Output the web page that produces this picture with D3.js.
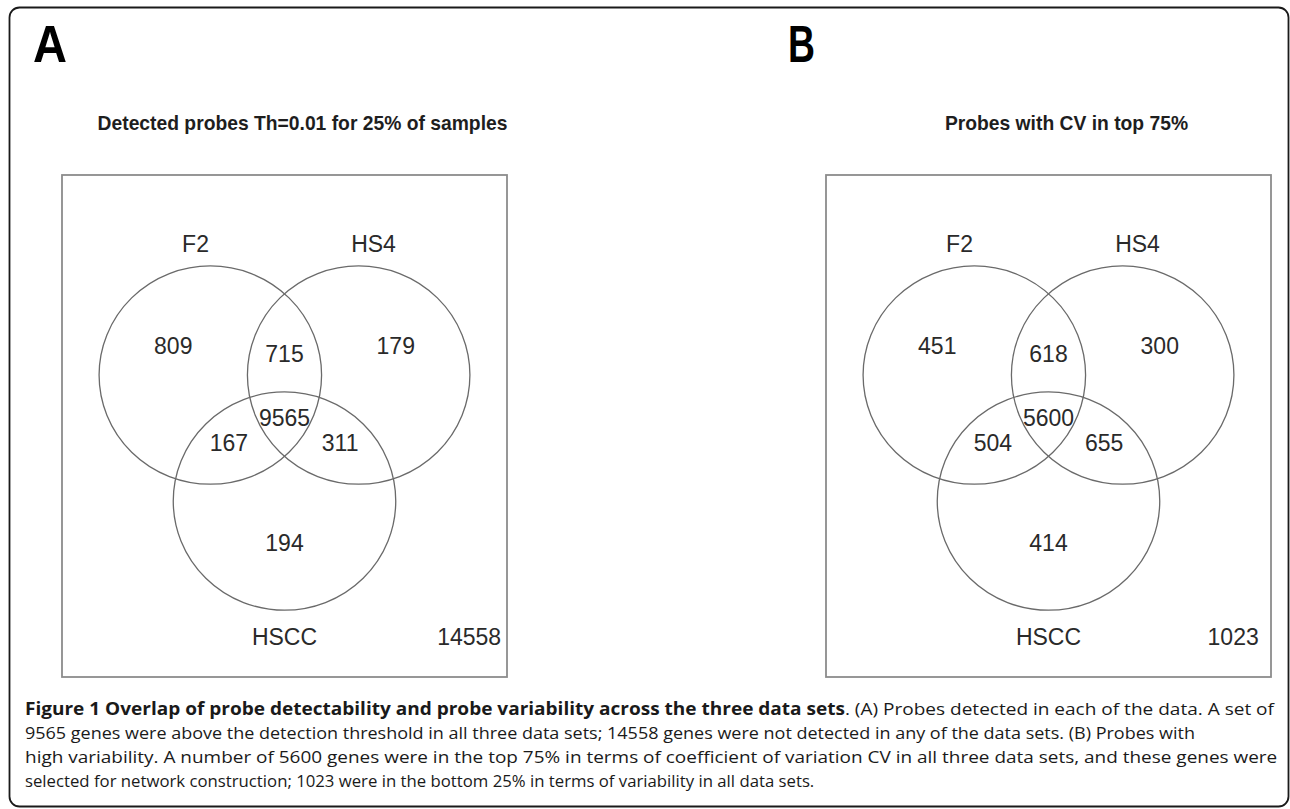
<!DOCTYPE html>
<html>
<head>
<meta charset="utf-8">
<script src="https://cdn.jsdelivr.net/npm/d3@7"></script>
<style>
  body { margin: 0; background: #fff; }
  svg { display: block; }
</style>
</head>
<body>
<div id="fig"></div>
<script>
// Datos de los dos diagramas de Venn
const setNames = ["F2", "HS4", "HSCC"]
const panelLetters = ["A", "B"]
const panelTitles = ["Detected probes Th=0.01 for 25% of samples", "Probes with CV in top 75%"]
// regiones: solo F2, F2+HS4, solo HS4, los tres, F2+HSCC, HS4+HSCC, solo HSCC
const regionKeys = ["100", "110", "010", "111", "101", "011", "001"]
const countsA = [809, 715, 179, 9565, 167, 311, 194]
const countsB = [451, 618, 300, 5600, 504, 655, 414]
const outsideCounts = [14558, 1023]

// Texto del pie de figura
const captionBold = "Figure 1 Overlap of probe detectability and probe variability across the three data sets"
const captionLines = [
  ". (A) Probes detected in each of the data. A set of",
  "9565 genes were above the detection threshold in all three data sets; 14558 genes were not detected in any of the data sets. (B) Probes with",
  "high variability. A number of 5600 genes were in the top 75% in terms of coefficient of variation CV in all three data sets, and these genes were",
  "selected for network construction; 1023 were in the bottom 25% in terms of variability in all data sets."
]
// ancho de cada renglon en la figura original
const captionWidths = [1250, 1170, 1253, 790]

// Geometria del Venn en unidades (estilo limma)
const centros = [{x: -1, y: 1}, {x: 1, y: 1}, {x: 0, y: 1 - Math.sqrt(3)}]
const radio = 1.5
const posRegion = {
  "100": [-1.5, 1.41], "110": [0, 1.3], "010": [1.5, 1.41], "111": [0, 0.42],
  "101": [-0.75, 0.065], "011": [0.75, 0.065], "001": [0, -1.3]
}
const posNombre = [[-1.2, 2.81], [1.2, 2.81], [0, -2.6]]
const posFuera = [2.49, -2.6]
const caja = {x0: -3, x1: 3, y0: -3.15, y1: 3.75}

const ancho = 1290, alto = 809
const fuente = "'Liberation Sans', Arial, Helvetica, sans-serif"

const svg = d3.select("#fig")
  .append("svg")
  .attr("width", ancho)
  .attr("height", alto)

// marco exterior redondeado
svg.append("rect")
  .attr("x", 9.5).attr("y", 7.5)
  .attr("width", 1279).attr("height", 799)
  .attr("rx", 10)
  .attr("fill", "#fff")
  .attr("stroke", "#1a1a1a")
  .attr("stroke-width", 1.8)

const paneles = [
  {letra: panelLetters[0], titulo: panelTitles[0], counts: countsA, fuera: outsideCounts[0], x0: 62, letraX: 33},
  {letra: panelLetters[1], titulo: panelTitles[1], counts: countsB, fuera: outsideCounts[1], x0: 826, letraX: 788}
]

paneles.forEach(p => {
  const x = d3.scaleLinear().domain([caja.x0, caja.x1]).range([p.x0, p.x0 + 445])
  const y = d3.scaleLinear().domain([caja.y0, caja.y1]).range([677, 175])
  const g = svg.append("g")

  // letra del panel
  g.append("text")
    .attr("x", p.letraX).attr("y", 62)
    .attr("font-family", fuente)
    .attr("font-weight", "bold")
    .attr("font-size", 51)
    .attr("textLength", p.letra == "A" ? 34 : 27)
    .attr("lengthAdjust", "spacingAndGlyphs")
    .attr("fill", "#000")
    .text(p.letra)

  // titulo
  g.append("text")
    .attr("x", x(0) + 18).attr("y", 130)
    .attr("text-anchor", "middle")
    .attr("font-family", fuente)
    .attr("font-weight", "bold")
    .attr("font-size", 19.3)
    .attr("fill", "#1e1e1e")
    .text(p.titulo)

  // caja
  g.append("rect")
    .attr("x", x(caja.x0)).attr("y", y(caja.y1))
    .attr("width", x(caja.x1) - x(caja.x0))
    .attr("height", y(caja.y0) - y(caja.y1))
    .attr("fill", "none")
    .attr("stroke", "#8c8c8c")
    .attr("stroke-width", 1.8)

  // circulos
  g.selectAll("ellipse")
    .data(centros)
    .enter().append("ellipse")
    .attr("cx", d => x(d.x))
    .attr("cy", d => y(d.y))
    .attr("rx", x(radio) - x(0))
    .attr("ry", y(0) - y(radio))
    .attr("fill", "none")
    .attr("stroke", "#6a6a6a")
    .attr("stroke-width", 1.3)

  const txt = (sel) => sel
    .attr("text-anchor", "middle")
    .attr("dy", "0.36em")
    .attr("font-family", fuente)
    .attr("font-size", 23)
    .attr("fill", "#2a2a2a")

  // nombres de conjuntos
  g.selectAll("text.nombre")
    .data(setNames)
    .enter().append("text")
    .attr("class", "nombre")
    .attr("x", (d, i) => x(posNombre[i][0]))
    .attr("y", (d, i) => y(posNombre[i][1]))
    .call(txt)
    .text(d => d)

  // conteos por region
  g.selectAll("text.conteo")
    .data(regionKeys.map((k, i) => ({k: k, v: p.counts[i]})))
    .enter().append("text")
    .attr("class", "conteo")
    .attr("x", d => x(posRegion[d.k][0]))
    .attr("y", d => y(posRegion[d.k][1]))
    .call(txt)
    .text(d => d.v)

  // fuera de todos
  g.append("text")
    .attr("x", x(posFuera[0]))
    .attr("y", y(posFuera[1]))
    .call(txt)
    .text(p.fuera)
})

// pie de figura
const pie = svg.append("g")
  .attr("font-family", "'Open Sans', 'Noto Sans', sans-serif")
  .attr("font-size", 17)
  .attr("fill", "#1a1a1a")

captionLines.forEach((linea, i) => {
  const yl = 715 + i * 24
  const t = pie.append("text")
    .attr("x", 0)
    .attr("y", 0)
  if (i == 0) {
    t.append("tspan").attr("font-weight", "bold").text(captionBold)
  }
  t.append("tspan").text(linea)
  // estirar el renglon al ancho que tiene en la figura
  const sx = captionWidths[i] / t.node().getComputedTextLength()
  t.attr("transform", "translate(25," + yl + ") scale(" + sx + ",1)")
})
</script>
</body>
</html>
